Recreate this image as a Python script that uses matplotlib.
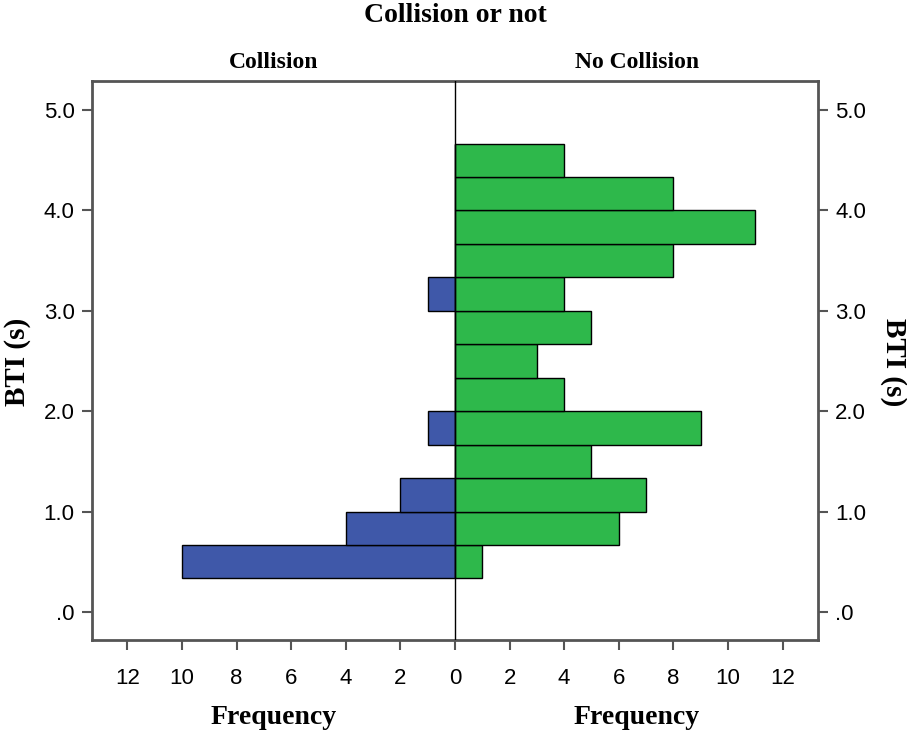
import matplotlib
matplotlib.use("Agg")
import matplotlib.pyplot as plt
import numpy as np

# Bin lower edges of BTI (s), bin width 1/3 s
bin_lower = [1/3, 2/3, 1.0, 4/3, 5/3, 2.0, 7/3, 8/3, 3.0, 10/3, 11/3, 4.0, 13/3]
bin_width = 1/3
collision = [10, 4, 2, 0, 1, 0, 0, 0, 1, 0, 0, 0, 0]
no_collision = [1, 6, 7, 5, 9, 4, 3, 5, 4, 8, 11, 8, 4]

x_ticks = [-12, -10, -8, -6, -4, -2, 0, 2, 4, 6, 8, 10, 12]
y_ticks = [0, 1, 2, 3, 4, 5]
y_ticklabels = [".0", "1.0", "2.0", "3.0", "4.0", "5.0"]

blue = "#3F58A9"
green = "#2EB84B"
frame_col = "#555555"

fig = plt.figure(figsize=(9.07, 7.33), dpi=100)
W, H = 907, 733
l, r, t, b = 92, 818, 81, 640
ax = fig.add_axes([l / W, 1 - b / H, (r - l) / W, (b - t) / H])

sans = ["Liberation Sans", "DejaVu Sans"]
serif = ["Liberation Serif", "DejaVu Serif"]

ax.barh(bin_lower, [-c for c in collision], height=bin_width, align="edge",
        color=blue, edgecolor="black", linewidth=1.0, zorder=2)
ax.barh(bin_lower, no_collision, height=bin_width, align="edge",
        color=green, edgecolor="black", linewidth=1.0, zorder=2)
ax.axvline(0, color="black", linewidth=1.0, zorder=3)

ax.set_xlim(-13.3, 13.3)
ax.set_ylim(-0.28, 5.29)

ax.set_xticks(x_ticks)
ax.set_xticklabels([str(abs(v)) for v in x_ticks], fontfamily=sans, fontsize=16)
ax.set_yticks(y_ticks)
ax.set_yticklabels(y_ticklabels, fontfamily=sans, fontsize=16)
ax.tick_params(axis="y", which="both", left=True, right=True, labelleft=True,
               labelright=True, direction="out", length=7, width=1.5,
               color=frame_col, pad=5.5)
ax.tick_params(axis="x", direction="out", length=7, width=1.5, color=frame_col, pad=13)
for s in ax.spines.values():
    s.set_color(frame_col)
    s.set_linewidth(2)

fig.text(0.5 * (l + r) / W, 1 - 15 / H, "Collision or not", ha="center", va="center",
         fontfamily=serif, fontweight="bold", fontsize=20)
fig.text((l + 456) / 2 / W, 1 - 62 / H, "Collision", ha="center", va="center",
         fontfamily=serif, fontweight="bold", fontsize=17)
fig.text((456 + r) / 2 / W, 1 - 62 / H, "No Collision", ha="center", va="center",
         fontfamily=serif, fontweight="bold", fontsize=17)
fig.text((l + 456) / 2 / W, 1 - 717 / H, "Frequency", ha="center", va="center",
         fontfamily=serif, fontweight="bold", fontsize=20)
fig.text((456 + r) / 2 / W, 1 - 717 / H, "Frequency", ha="center", va="center",
         fontfamily=serif, fontweight="bold", fontsize=20)
fig.text(18 / W, 1 - 362 / H, "BTI (s)", ha="center", va="center", rotation=90,
         fontfamily=serif, fontweight="bold", fontsize=21)
fig.text(893 / W, 1 - 362 / H, "BTI (s)", ha="center", va="center", rotation=-90,
         fontfamily=serif, fontweight="bold", fontsize=21)

fig.savefig("out.png", dpi=100)
